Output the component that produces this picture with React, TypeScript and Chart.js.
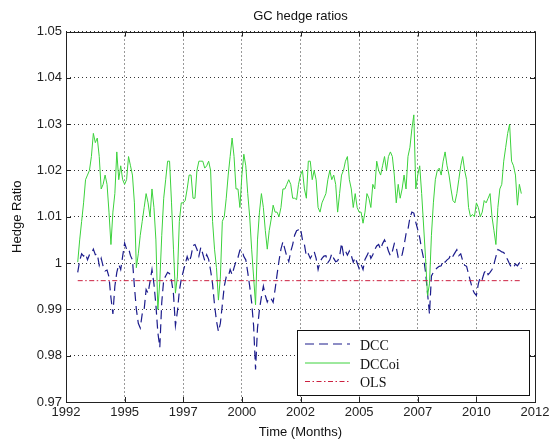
import React, { useEffect, useRef } from "react";
import { Chart, registerables } from "chart.js";

Chart.register(...registerables);

const chartTitle = "GC hedge ratios";
const xAxisTitle = "Time (Months)";
const yAxisTitle = "Hedge Ratio";

// Monthly observations, first one in July 1992
const startYear = 1992;
const startMonth = 7;

const xTickValues = [1992, 1994.5, 1997, 1999.5, 2002, 2004.5, 2007, 2009.5, 2012];
const xTickLabels = ["1992", "1995", "1997", "2000", "2002", "2005", "2007", "2010", "2012"];
const yTickValues = [0.97, 0.98, 0.99, 1.0, 1.01, 1.02, 1.03, 1.04, 1.05];

const seriesNames = ["DCC", "DCCoi", "OLS"];

const dccRatios = [
  0.998, 1.0005, 1.002, 1.0015, 1.002, 1.0007, 1.0018, 1.002, 1.003, 1.0018,
  1.002, 0.9995, 1.001, 0.9993, 0.9983, 0.9985, 0.997, 0.9925, 0.989, 0.995,
  0.998, 0.9997, 0.9986, 1.0015, 1.0043, 1.003, 1.0032, 1.0016, 1.0007, 0.995,
  0.99, 0.987, 0.986, 0.989, 0.99, 0.9943, 0.9935, 0.996, 0.9986, 0.9955,
  0.991, 0.985, 0.9818, 0.9915, 0.9964, 0.9972, 0.998, 0.9977, 0.9962, 0.9933,
  0.9865, 0.9895, 0.994, 0.9965, 0.9982, 0.9998, 1.0014, 1.0002, 1.0015, 1.0038,
  1.004, 1.003, 1.0015, 1.0034, 1.002, 1.0005, 1.0018, 1.0008, 0.9984, 0.9955,
  0.991, 0.9875, 0.9852, 0.987, 0.991, 0.995, 0.997, 0.997, 0.9986, 0.9975,
  0.999, 1.0004, 1.0012, 1.0028, 1.0029, 1.0014, 1.0007, 0.998, 0.995, 0.9915,
  0.9865, 0.977, 0.986, 0.99, 0.9927, 0.995, 0.993, 0.9916, 0.9925, 0.9923,
  0.9915, 0.9943, 0.9975, 1.0005, 1.003, 1.0046, 1.003, 1.0014, 1.0003, 1.0025,
  1.004, 1.006, 1.007, 1.0072, 1.0075, 1.005, 1.004, 1.0015, 1.002, 1.001,
  1.0018, 1.0025, 1.001, 0.9986, 1.0003, 1.001, 1.0015, 1.0016, 1.0001, 1.0007,
  1.002, 1.001, 1.0003, 1.0005, 1.0014, 1.0043, 1.0018, 1.0026, 1.0017, 1.0026,
  1.0016, 1.0002, 1.0012, 1.0, 0.9988, 0.9997, 0.9986, 1.0008, 1.0016, 1.0025,
  1.001, 1.0018, 1.0029, 1.0037, 1.004, 1.003, 1.0042, 1.005, 1.004, 1.0026,
  1.0016, 1.0025, 1.0042, 1.0034, 1.0012, 1.001, 1.0018, 1.0038, 1.0063, 1.0073,
  1.0098, 1.011, 1.0108, 1.0088, 1.0072, 1.0055, 1.003, 1.001, 0.998, 0.9935,
  0.989, 0.9972, 0.998, 0.9986, 0.999, 0.9993, 0.9994, 1.0006, 1.0002, 1.0007,
  1.001, 1.002, 1.0015, 1.0022, 1.0029, 1.0016, 1.002, 1.0005, 0.9995, 0.9993,
  0.9976, 0.996, 0.9944, 0.9935, 0.993, 0.9955, 0.997, 0.9965, 0.9979, 0.9985,
  0.9975, 0.998, 0.9986, 0.9998, 1.0014, 1.0029, 1.0027, 1.0024, 1.0023, 1.0015,
  1.0007, 0.9998, 0.999, 0.999, 0.9998, 0.9994, 1.0, 0.9988,
];

const dccOiRatios = [
  1.0002, 1.005, 1.009, 1.013, 1.018, 1.019, 1.02, 1.023, 1.028, 1.026,
  1.027, 1.023, 1.016, 1.017, 1.019, 1.017, 1.011, 1.004, 1.011, 1.015,
  1.024, 1.018, 1.021, 1.018, 1.017, 1.018, 1.023, 1.021, 1.019, 1.013,
  0.999, 1.002, 1.006, 1.009, 1.012, 1.015, 1.013, 1.01, 1.016, 1.012,
  1.005, 0.99, 0.996, 1.006, 1.014, 1.018, 1.022, 1.022, 1.013, 1.003,
  0.9935, 0.997, 1.009, 1.013, 1.013, 1.0135, 1.016, 1.019, 1.019, 1.014,
  1.014, 1.02, 1.022, 1.022, 1.022, 1.0205, 1.021, 1.022, 1.02, 1.009,
  1.003, 0.999, 0.992, 0.997, 1.009, 1.01, 1.014, 1.019, 1.023, 1.027,
  1.023, 1.016, 1.016, 1.012, 1.019, 1.0235, 1.021, 1.015, 1.01, 1.003,
  0.997, 0.991, 1.005, 1.011, 1.015, 1.012, 1.007, 1.003, 1.007, 1.0095,
  1.0125, 1.011, 1.011, 1.01, 1.012, 1.016, 1.016, 1.017, 1.018, 1.017,
  1.014, 1.014, 1.0137, 1.017, 1.019, 1.02, 1.016, 1.014, 1.022, 1.022,
  1.018, 1.02, 1.018, 1.012, 1.011, 1.013, 1.014, 1.015, 1.018, 1.02,
  1.018, 1.019, 1.017, 1.011, 1.015, 1.019, 1.02, 1.022, 1.023, 1.018,
  1.016, 1.012, 1.015, 1.012, 1.011, 1.011, 1.0086, 1.011, 1.015, 1.014,
  1.012, 1.017, 1.016, 1.022, 1.02, 1.019, 1.021, 1.023, 1.02, 1.023,
  1.024, 1.023, 1.019, 1.013, 1.017, 1.014, 1.016, 1.019, 1.016, 1.023,
  1.025, 1.029, 1.032, 1.016, 1.019, 1.021, 1.015, 1.008, 1.001, 0.993,
  0.9955, 1.006, 1.013, 1.018, 1.02, 1.0205, 1.019, 1.022, 1.024, 1.021,
  1.019, 1.016, 1.0135, 1.013, 1.015, 1.018, 1.021, 1.023, 1.02, 1.018,
  1.012, 1.01, 1.0105, 1.01, 1.013, 1.012, 1.01, 1.011, 1.0135, 1.013,
  1.014, 1.015, 1.01, 1.007, 1.004, 1.012, 1.016, 1.017, 1.022, 1.025,
  1.028, 1.03, 1.022, 1.021, 1.019, 1.0125, 1.017, 1.015,
];

const olsRatio = 0.9962;

const seriesColors = ["#1c1c8c", "#3cd23c", "#cc2040"];
const seriesDashes: number[][] = [[9, 5], [], [5, 2.5, 1.5, 2.5]];

const monthTime = (i: number) => startYear + (startMonth - 1 + i) / 12;

const sansFont = "'Liberation Sans', Arial, Helvetica, sans-serif";
const serifFont = "'Liberation Serif', 'Times New Roman', serif";

// Box around the axes, inward tick marks, title and the boxed legend
const framePlugin = {
  id: "frame",
  afterDatasetsDraw(chart: any) {
    const { ctx, chartArea } = chart;
    const { left, right, top, bottom } = chartArea;
    const xs = chart.scales.x;
    const ys = chart.scales.y;
    const a = (v: number) => Math.round(v) + 0.5;
    ctx.save();
    ctx.strokeStyle = "#222";
    ctx.lineWidth = 1;
    ctx.setLineDash([]);
    ctx.strokeRect(a(left), a(top), Math.round(right) - Math.round(left), Math.round(bottom) - Math.round(top));
    const tick = 5;
    ctx.beginPath();
    xTickValues.forEach((v) => {
      const px = a(xs.getPixelForValue(v));
      ctx.moveTo(px, bottom);
      ctx.lineTo(px, bottom - tick);
      ctx.moveTo(px, top);
      ctx.lineTo(px, top + tick);
    });
    yTickValues.forEach((v) => {
      const py = a(ys.getPixelForValue(v));
      ctx.moveTo(left, py);
      ctx.lineTo(left + tick, py);
      ctx.moveTo(right, py);
      ctx.lineTo(right - tick, py);
    });
    ctx.stroke();

    // title
    ctx.fillStyle = "#111";
    ctx.font = `13px ${sansFont}`;
    ctx.textAlign = "center";
    ctx.textBaseline = "middle";
    ctx.fillText(chartTitle, (left + right) / 2, 16);

    // legend
    const bw = 232;
    const bh = 65;
    const bx = Math.round(right) - 6 - bw;
    const by = Math.round(bottom) - 7 - bh;
    ctx.fillStyle = "#fff";
    ctx.fillRect(bx, by, bw, bh);
    ctx.strokeStyle = "#111";
    ctx.strokeRect(bx + 0.5, by + 0.5, bw, bh);
    const rows = [14, 33, 51.5];
    chart.data.datasets.forEach((ds: any, i: number) => {
      const y = by + rows[i];
      ctx.beginPath();
      ctx.strokeStyle = ds.borderColor;
      ctx.lineWidth = ds.borderWidth;
      ctx.setLineDash(ds.borderDash || []);
      ctx.moveTo(bx + 8, y);
      ctx.lineTo(bx + 53, y);
      ctx.stroke();
      ctx.setLineDash([]);
      ctx.fillStyle = "#111";
      ctx.font = `14px ${serifFont}`;
      ctx.textAlign = "left";
      ctx.textBaseline = "middle";
      ctx.fillText(ds.label, bx + 63, y + 2);
    });
    ctx.restore();
  },
};

export default function App() {
  const canvasRef = useRef<HTMLCanvasElement | null>(null);

  useEffect(() => {
    const canvas = canvasRef.current;
    if (!canvas) return;

    const dccPoints = dccRatios.map((y, i) => ({ x: monthTime(i), y }));
    const dccOiPoints = dccOiRatios.map((y, i) => ({ x: monthTime(i), y }));
    const olsPoints = [
      { x: monthTime(0), y: olsRatio },
      { x: monthTime(dccRatios.length - 1), y: olsRatio },
    ];

    const chart = new Chart(canvas, {
      type: "line",
      data: {
        datasets: [
          {
            label: seriesNames[0],
            data: dccPoints,
            borderColor: seriesColors[0],
            borderWidth: 1.2,
            borderDash: seriesDashes[0],
            pointRadius: 0,
            tension: 0,
            order: 3,
          },
          {
            label: seriesNames[1],
            data: dccOiPoints,
            borderColor: seriesColors[1],
            borderWidth: 1,
            borderDash: seriesDashes[1],
            pointRadius: 0,
            tension: 0,
            order: 2,
          },
          {
            label: seriesNames[2],
            data: olsPoints,
            borderColor: seriesColors[2],
            borderWidth: 1,
            borderDash: seriesDashes[2],
            pointRadius: 0,
            tension: 0,
            order: 1,
          },
        ],
      },
      options: {
        responsive: false,
        animation: false,
        devicePixelRatio: 1,
        layout: { padding: { top: 31.5, right: 20, left: 0, bottom: 0 } },
        plugins: {
          legend: { display: false },
          title: { display: false },
          tooltip: { enabled: false },
        },
        scales: {
          x: {
            type: "linear",
            min: 1992,
            max: 2012,
            afterBuildTicks: (s: any) => {
              s.ticks = xTickValues.map((value) => ({ value }));
            },
            afterFit: (s: any) => {
              s.height = 42;
            },
            ticks: {
              autoSkip: false,
              maxRotation: 0,
              padding: 3,
              color: "#222",
              font: { family: sansFont, size: 13 },
              callback: (v: any) => {
                const idx = xTickValues.findIndex((t) => Math.abs(t - Number(v)) < 1e-6);
                return idx >= 0 ? xTickLabels[idx] : "";
              },
            },
            grid: { color: "rgba(0,0,0,0.8)", lineWidth: 1, drawTicks: false },
            border: { display: false, dash: [1, 3] },
            title: {
              display: true,
              text: xAxisTitle,
              color: "#111",
              font: { family: sansFont, size: 13 },
              padding: { top: 0, bottom: 4 },
            },
          },
          y: {
            type: "linear",
            min: 0.97,
            max: 1.05,
            afterBuildTicks: (s: any) => {
              s.ticks = yTickValues.map((value) => ({ value }));
            },
            afterFit: (s: any) => {
              s.width = 66;
            },
            ticks: {
              padding: 4,
              color: "#222",
              font: { family: sansFont, size: 13 },
              callback: (v: any) => String(Number(Number(v).toFixed(2))),
            },
            grid: { color: "rgba(0,0,0,0.8)", lineWidth: 1, drawTicks: false },
            border: { display: false, dash: [1, 3] },
            title: {
              display: true,
              text: yAxisTitle,
              color: "#111",
              font: { family: sansFont, size: 13 },
              padding: { top: 10, bottom: 0 },
            },
          },
        },
      },
      plugins: [framePlugin],
    } as any);

    return () => chart.destroy();
  }, []);

  return (
    <div style={{ position: "fixed", left: 0, top: 0, width: 555, height: 444, background: "#fff" }}>
      <canvas ref={canvasRef} width={555} height={444} style={{ display: "block", width: 555, height: 444 }} />
    </div>
  );
}
